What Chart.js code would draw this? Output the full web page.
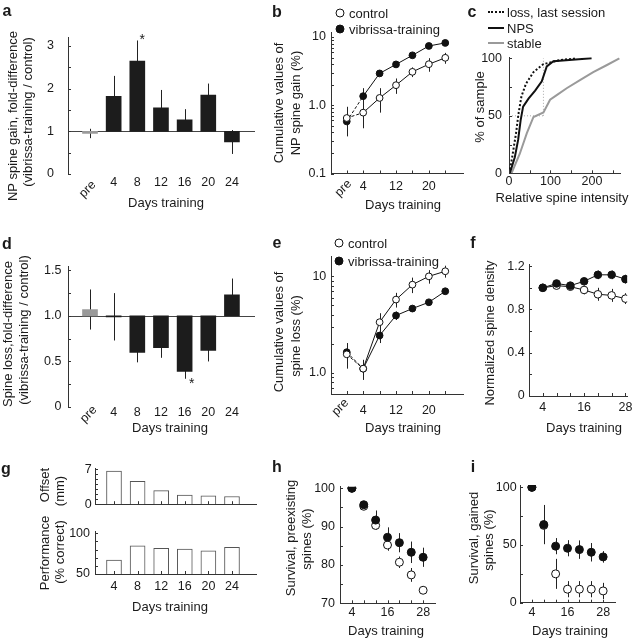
<!DOCTYPE html>
<html>
<head>
<meta charset="utf-8">
<script src="https://cdn.jsdelivr.net/npm/chart.js@4.4.0/dist/chart.umd.min.js"></script>
<style>
  body { margin:0; width:637px; height:639px; background:#fff; position:relative; overflow:hidden;
         font-family:'Liberation Sans', Arial, Helvetica, sans-serif; color:#1a1a1a; }
  canvas { position:absolute; }
  .txt { position:absolute; white-space:nowrap; font-size:13px; line-height:1; }
  .lt { font-weight:bold; font-size:16px; }
  .dot { position:absolute; width:7px; height:7px; border-radius:50%; border:1px solid #111; transform:translate(-50%,-50%); }
  .seg { position:absolute; width:16px; height:0; transform:translateY(-50%); }
</style>
</head>
<body>
<script>
// ---------- data ----------
var sessionDays = [0, 4, 8, 12, 16, 20, 24];
var sessionLabels = ['pre', '4', '8', '12', '16', '20', '24'];

// a: NP spine gain, fold difference (training / control)
var gainFold = [0.95, 1.82, 2.65, 1.55, 1.27, 1.85, 0.75];
var gainFoldSem = [0.11, 0.48, 0.48, 0.42, 0.25, 0.27, 0.28];
var gainStarDay = 8;

// b: cumulative NP spine gain (%)
var gainCumCtrl = [0.65, 0.78, 1.28, 1.97, 3.09, 4.0, 4.96];
var gainCumCtrlSem = [0.3, 0.32, 0.5, 0.5, 0.5, 0.9, 0.9];
var gainCumTrain = [0.58, 1.36, 2.93, 3.97, 5.4, 7.4, 8.2];
var gainCumTrainSem = [0.15, 0.42, 0.3, 0.35, 0.4, 0.5, 0.5];

// c: cumulative distributions of relative spine intensity
var lossLastX = [1, 9, 17, 23, 30, 41, 59, 83, 123, 163];
var lossLastY = [0, 17, 35, 52, 67, 78, 88, 95, 98.5, 100];
var npsX = [2, 14, 22, 28, 34, 47, 63, 79, 91, 107, 199];
var npsY = [0, 14, 29, 46, 58, 65, 72, 80, 93, 97.5, 100];
var stableX = [6, 26, 43, 59, 83, 99, 115, 139, 171, 203, 235, 266];
var stableY = [0, 17, 35, 49, 53, 64, 68, 74, 81, 88, 94, 100];
var medianIntensity = 83;

// d: spine loss, fold difference
var lossFold = [1.07, 0.99, 0.60, 0.65, 0.39, 0.62, 1.23];
var lossFoldSem = [0.22, 0.26, 0.11, 0.11, 0.08, 0.12, 0.18];
var lossStarDay = 16;

// e: cumulative spine loss (%)
var lossCumCtrl = [1.55, 1.1, 3.34, 5.74, 8.2, 10.0, 11.3];
var lossCumCtrlSem = [0.45, 0.26, 0.8, 1.0, 1.5, 1.6, 1.6];
var lossCumTrain = [1.63, 1.1, 2.43, 3.92, 4.63, 5.38, 7.0];
var lossCumTrainSem = [0.4, 0.2, 0.4, 0.4, 0.35, 0.3, 0.4];

// f: normalized spine density
var imagingDays = [4, 8, 12, 16, 20, 24, 28];
var densityCtrl = [1.0, 1.02, 1.01, 0.98, 0.94, 0.93, 0.90];
var densityCtrlSem = [0.02, 0.03, 0.03, 0.04, 0.06, 0.06, 0.05];
var densityTrain = [1.0, 1.04, 1.02, 1.06, 1.12, 1.12, 1.08];
var densityTrainSem = [0.02, 0.03, 0.03, 0.03, 0.04, 0.04, 0.04];

// g: behaviour
var behavDays = [4, 8, 12, 16, 20, 24];
var offsetMm = [6.7, 4.6, 2.75, 1.85, 1.7, 1.55];
var perfCorrect = [67, 84.5, 81.5, 80.7, 78.6, 82.8];

// h: survival of preexisting spines (%)
var survPreCtrl = [100, 95.3, 90.3, 85.2, 80.7, 77.4, 73.4];
var survPreCtrlSem = [0, 0.8, 1.0, 1.5, 1.5, 1.8, 0.6];
var survPreTrain = [100, 95.7, 91.7, 87.2, 85.8, 83.3, 82.0];
var survPreTrainSem = [0, 0.8, 2.5, 2.6, 2.5, 2.8, 2.5];

// i: survival of gained spines (%)
var survGainCtrl = [100, 67, 25, 11.7, 11.7, 11.7, 10.2];
var survGainCtrlSem = [0, 0, 13, 7, 7, 7, 7];
var survGainTrain = [100, 67.7, 49, 47.2, 46, 43.7, 39.7];
var survGainTrainSem = [0, 17, 7, 7, 8, 8, 5];

// ---------- helpers ----------
var FONT = "'Liberation Sans', Arial, Helvetica, sans-serif";
Chart.defaults.font.family = FONT;
Chart.defaults.font.size = 12.5;
Chart.defaults.color = '#1a1a1a';

function isWhole(v) {
  var m = v / Math.pow(10, Math.floor(Math.log10(v) + 1e-9));
  return Math.abs(m - Math.round(m)) < 1e-6;
}
function pick(vals, texts) {
  return function(v) {
    for (var k = 0; k < vals.length; k++) if (Math.abs(vals[k] - v) < 1e-9) return texts[k];
    return '';
  };
}
function axis(min, max, size, o) {
  o = o || {};
  return {
    type: o.type || 'linear', min: min, max: max, offset: false,
    grid: {display: false, drawTicks: false},
    border: {display: o.border !== false, color: '#333', width: 1},
    ticks: {display: o.show !== false, autoSkip: false, maxRotation: 0, minRotation: 0,
            padding: o.pad || 0, color: '#1a1a1a', font: {size: 12.5}, callback: o.fmt},
    afterBuildTicks: function(s) {
      if (o.at) s.ticks = o.at.map(function(v) { return {value: v}; });
      else if (o.type === 'logarithmic') s.ticks = s.ticks.filter(function(t) { return isWhole(t.value); });
    },
    afterFit: function(s) { if (s.isHorizontal()) s.height = size; else s.width = size; }
  };
}
function pts(xs, ys) {
  return xs.map(function(x, i) { return {x: x, y: ys[i]}; });
}
function series(xs, ys, sem, filled, r, extra) {
  var ds = {
    data: pts(xs, ys), sem: sem, borderColor: '#111', borderWidth: 1,
    pointRadius: r, pointBorderWidth: 1, pointBorderColor: '#111',
    pointBackgroundColor: filled ? '#111' : '#fff', tension: 0
  };
  return Object.assign(ds, extra || {});
}
var dashFirst = {borderDash: function(c) { return c.p0DataIndex === 0 ? [3, 2] : undefined; }};

// error bars, reference line, inward ticks, rotated "pre" and stars
var deco = {
  id: 'deco',
  beforeDatasetsDraw: function(chart, args, o) {
    var ctx = chart.ctx, a = chart.chartArea, x = chart.scales.x, y = chart.scales.y;
    ctx.save();
    ctx.lineWidth = 1;
    if (o.refY !== undefined) {
      var py = Math.round(y.getPixelForValue(o.refY)) + 0.5;
      ctx.strokeStyle = '#444';
      ctx.beginPath(); ctx.moveTo(a.left, py); ctx.lineTo(a.right, py); ctx.stroke();
    }
    chart.data.datasets.forEach(function(ds) {
      if (!ds.sem) return;
      ctx.strokeStyle = '#222';
      ds.data.forEach(function(p, j) {
        var s = ds.sem[j];
        if (!s) return;
        var v = Array.isArray(p.y) ? p.y[1] : p.y;
        var px = Math.round(x.getPixelForValue(p.x)) + 0.5;
        ctx.beginPath();
        ctx.moveTo(px, y.getPixelForValue(v - s));
        ctx.lineTo(px, y.getPixelForValue(v + s));
        ctx.stroke();
      });
    });
    ctx.restore();
  },
  afterDraw: function(chart, args, o) {
    var ctx = chart.ctx, a = chart.chartArea, x = chart.scales.x, y = chart.scales.y;
    ctx.save();
    ctx.strokeStyle = '#333'; ctx.lineWidth = 1;
    y.ticks.forEach(function(t) {
      var py = Math.round(y.getPixelForValue(t.value)) + 0.5;
      ctx.beginPath(); ctx.moveTo(a.left, py); ctx.lineTo(a.left + 3, py); ctx.stroke();
    });
    if (o.xTicks) x.ticks.forEach(function(t) {
      var px = Math.round(x.getPixelForValue(t.value)) + 0.5;
      ctx.beginPath(); ctx.moveTo(px, a.bottom); ctx.lineTo(px, a.bottom - 3); ctx.stroke();
    });
    ctx.fillStyle = '#1a1a1a';
    ctx.font = '12.5px ' + FONT;
    if (o.pre) {
      ctx.save();
      ctx.translate(x.getPixelForValue(0) + o.pre[0], a.bottom + o.pre[1]);
      ctx.rotate(-Math.PI / 4);
      ctx.textAlign = 'right'; ctx.textBaseline = 'middle';
      ctx.fillText(sessionLabels[0], 0, 0);
      ctx.restore();
    }
    if (o.star) {
      ctx.font = '14px ' + FONT;
      ctx.textAlign = 'center'; ctx.textBaseline = 'middle';
      ctx.fillText('*', x.getPixelForValue(o.star[0]) + o.star[2], y.getPixelForValue(o.star[1]));
    }
    ctx.restore();
  }
};
Chart.register(deco);

function makeChart(box, cfg) {
  var cv = document.createElement('canvas');
  cv.width = box.w; cv.height = box.h;
  cv.style.left = box.x + 'px'; cv.style.top = box.y + 'px';
  document.body.appendChild(cv);
  cfg.options.responsive = false;
  cfg.options.animation = false;
  cfg.options.devicePixelRatio = 1;
  cfg.options.events = [];
  cfg.options.layout = {padding: {top: box.pt, right: box.pr, left: 0, bottom: 0}};
  cfg.options.plugins = Object.assign({legend: {display: false}, tooltip: {enabled: false}}, cfg.options.plugins || {});
  return new Chart(cv, cfg);
}
function addText(txt, x, y, o) {
  o = o || {};
  var d = document.createElement('div');
  d.className = 'txt' + (o.bold ? ' lt' : '');
  d.textContent = txt;
  d.style.left = x + 'px'; d.style.top = y + 'px';
  var tr = o.left ? 'translate(0,-50%)' : 'translate(-50%,-50%)';
  if (o.rot) tr += ' rotate(-90deg)';
  d.style.transform = tr;
  document.body.appendChild(d);
}
function addDot(x, y, filled) {
  var d = document.createElement('div');
  d.className = 'dot';
  d.style.left = x + 'px'; d.style.top = y + 'px';
  d.style.background = filled ? '#111' : '#fff';
  document.body.appendChild(d);
}
function addSeg(x, y, style) {
  var d = document.createElement('div');
  d.className = 'seg';
  d.style.left = x + 'px'; d.style.top = y + 'px';
  d.style.borderTop = style;
  document.body.appendChild(d);
}

var dayFmt = function(v, i) { return i === 0 ? '' : sessionLabels[i]; };
var barColors = sessionDays.map(function(d, i) { return i === 0 ? '#9a9a9a' : '#1c1c1c'; });

// ---------- a ----------
makeChart({x: 0, y: 0, w: 262, h: 215, pt: 37.5, pr: 7}, {
  type: 'bar',
  data: {datasets: [{
    data: sessionDays.map(function(d, i) { return {x: d, y: [1, gainFold[i]]}; }),
    sem: gainFoldSem, backgroundColor: barColors, borderWidth: 0, barThickness: 15
  }]},
  options: {
    scales: {
      x: axis(-3.72, 27.9, 41, {at: sessionDays, border: false, pad: 1.5, fmt: dayFmt}),
      y: axis(0, 3.2, 68, {at: [0, 0.5, 1, 1.5, 2, 2.5, 3], pad: 14, fmt: pick([0, 1, 2, 3], ['0', '1', '2', '3'])})
    },
    plugins: {deco: {refY: 1, pre: [4, 9], star: [gainStarDay, 3.14, 5]}}
  }
});

// ---------- b ----------
makeChart({x: 262, y: 0, w: 206, h: 215, pt: 32.9, pr: 3}, {
  type: 'line',
  data: {datasets: [
    series(sessionDays, gainCumCtrl, gainCumCtrlSem, false, 3.4, {segment: dashFirst}),
    series(sessionDays, gainCumTrain, gainCumTrainSem, true, 3.4, {segment: dashFirst})
  ]},
  options: {
    scales: {
      x: axis(-3.84, 28.32, 41.5, {at: sessionDays, pad: 5.7, fmt: pick([4, 12, 20], ['4', '12', '20'])}),
      y: axis(0.1, 11.5, 69, {type: 'logarithmic', pad: 5, fmt: pick([0.1, 1, 10], ['0.1', '1.0', '10'])})
    },
    plugins: {deco: {pre: [3, 8.5], xTicks: true}}
  }
});

// ---------- c ----------
makeChart({x: 468, y: 0, w: 169, h: 215, pt: 57.2, pr: 17}, {
  type: 'line',
  data: {datasets: [
    {data: pts(lossLastX, lossLastY), borderColor: '#111', borderWidth: 2, borderDash: [2, 2], pointRadius: 0, tension: 0},
    {data: pts(npsX, npsY), borderColor: '#111', borderWidth: 2, pointRadius: 0, tension: 0},
    {data: pts(stableX, stableY), borderColor: '#9a9a9a', borderWidth: 2, pointRadius: 0, tension: 0},
    {data: pts([0, medianIntensity], [50, 50]), borderColor: '#aaa', borderWidth: 1, borderDash: [1, 2], pointRadius: 0},
    {data: pts([medianIntensity, medianIntensity], [50, 100]), borderColor: '#aaa', borderWidth: 1, borderDash: [1, 2], pointRadius: 0}
  ]},
  options: {
    scales: {
      x: axis(0, 267.5, 41.7, {at: [0, 50, 100, 150, 200, 250], pad: 1, fmt: pick([0, 100, 200], ['0', '100', '200'])}),
      y: axis(0, 101, 41, {at: [0, 25, 50, 75, 100], pad: 7, fmt: pick([0, 50, 100], ['0', '50', '100'])})
    },
    plugins: {deco: {xTicks: true}}
  }
});

// ---------- d ----------
makeChart({x: 0, y: 215, w: 262, h: 215, pt: 51.7, pr: 7}, {
  type: 'bar',
  data: {datasets: [{
    data: sessionDays.map(function(d, i) { return {x: d, y: [1, lossFold[i]]}; }),
    sem: lossFoldSem, backgroundColor: barColors, borderWidth: 0, barThickness: 15
  }]},
  options: {
    scales: {
      x: axis(-3.72, 27.9, 23, {at: sessionDays, border: false, pad: -2, fmt: dayFmt}),
      y: axis(0, 1.54, 68, {at: [0, 0.25, 0.5, 0.75, 1, 1.25, 1.5], pad: 6.6, fmt: pick([0, 0.5, 1, 1.5], ['0', '0.5', '1.0', '1.5'])})
    },
    plugins: {deco: {refY: 1, pre: [5, 1], star: [lossStarDay, 0.25, 7]}}
  }
});

// ---------- e ----------
makeChart({x: 262, y: 215, w: 206, h: 215, pt: 41.7, pr: 3}, {
  type: 'line',
  data: {datasets: [
    series(sessionDays, lossCumCtrl, lossCumCtrlSem, false, 3.4, {segment: dashFirst}),
    series(sessionDays, lossCumTrain, lossCumTrainSem, true, 3.4, {segment: dashFirst})
  ]},
  options: {
    scales: {
      x: axis(-3.84, 28.32, 36, {at: sessionDays, pad: 8.8, fmt: pick([4, 12, 20], ['4', '12', '20'])}),
      y: axis(0.61, 16, 69, {type: 'logarithmic', pad: 4.7, fmt: pick([1, 10], ['1.0', '10'])})
    },
    plugins: {deco: {pre: [0, 7], xTicks: true}}
  }
});

// ---------- f ----------
makeChart({x: 468, y: 215, w: 169, h: 215, pt: 49, pr: 7}, {
  type: 'line',
  data: {datasets: [
    series(imagingDays, densityTrain, densityTrainSem, true, 3.8),
    series(imagingDays, densityCtrl, densityCtrlSem, false, 3.8)
  ]},
  options: {
    scales: {
      x: axis(0, 28.5, 34, {at: imagingDays, pad: 4.5, fmt: pick([4, 16, 28], ['4', '16', '28'])}),
      y: axis(0, 1.22, 61, {at: [0, 0.2, 0.4, 0.6, 0.8, 1.0, 1.2], pad: 4.3, fmt: pick([0, 0.4, 0.8, 1.2], ['0', '0.4', '0.8', '1.2'])})
    },
    plugins: {deco: {xTicks: true}}
  }
});

// ---------- g ----------
makeChart({x: 0, y: 440, w: 262, h: 75, pt: 28, pr: 6}, {
  type: 'bar',
  data: {datasets: [{data: pts(behavDays, offsetMm), backgroundColor: '#fff', borderColor: '#555', borderWidth: 1, barThickness: 15}]},
  options: {
    scales: {
      x: axis(0.78, 28.07, 6.7, {at: behavDays, show: false}),
      y: axis(0, 7.3, 95, {at: [0, 1, 2, 3, 4, 5, 6, 7], pad: 3.3, fmt: pick([0, 7], ['0', '7'])})
    },
    plugins: {deco: {xTicks: true}}
  }
});
makeChart({x: 0, y: 515, w: 262, h: 85, pt: 16.7, pr: 6}, {
  type: 'bar',
  data: {datasets: [{data: pts(behavDays, perfCorrect), backgroundColor: '#fff', borderColor: '#555', borderWidth: 1, barThickness: 15}]},
  options: {
    scales: {
      x: axis(0.78, 28.07, 26, {at: behavDays, pad: 5.2, fmt: function(v) { return String(v); }}),
      y: axis(50, 102, 95, {at: [50, 60, 70, 80, 90, 100], pad: 5, fmt: pick([50, 100], ['50', '100'])})
    },
    plugins: {deco: {xTicks: true}}
  }
});

// ---------- h ----------
makeChart({x: 262, y: 440, w: 180, h: 199, pt: 46.7, pr: 7}, {
  type: 'line',
  data: {datasets: [
    series(imagingDays, survPreTrain, survPreTrainSem, true, 4, {showLine: false}),
    series(imagingDays, survPreCtrl, survPreCtrlSem, false, 4, {showLine: false})
  ]},
  options: {
    scales: {
      x: axis(0, 32, 35.7, {at: imagingDays, pad: 1.5, fmt: pick([4, 16, 28], ['4', '16', '28'])}),
      y: axis(70, 100.4, 78, {at: [70, 75, 80, 85, 90, 95, 100], pad: 5, fmt: pick([70, 80, 90, 100], ['70', '80', '90', '100'])})
    },
    plugins: {deco: {xTicks: true}}
  }
});

// ---------- i ----------
makeChart({x: 442, y: 440, w: 195, h: 199, pt: 45, pr: 22}, {
  type: 'line',
  data: {datasets: [
    series(imagingDays, survGainTrain, survGainTrainSem, true, 4, {showLine: false}),
    series(imagingDays, survGainCtrl, survGainCtrlSem, false, 4, {showLine: false})
  ]},
  options: {
    scales: {
      x: axis(0, 32, 36.3, {at: imagingDays, pad: 2.3, fmt: pick([4, 16, 28], ['4', '16', '28'])}),
      y: axis(0, 102, 78, {at: [0, 25, 50, 75, 100], pad: 3.3, fmt: pick([0, 50, 100], ['0', '50', '100'])})
    },
    plugins: {deco: {xTicks: true}}
  }
});

// ---------- text: letters, titles, legends ----------
addText('a', 7, 11, {bold: true});
addText('b', 277, 12, {bold: true});
addText('c', 472, 12, {bold: true});
addText('d', 7, 244, {bold: true});
addText('e', 277, 243, {bold: true});
addText('f', 473, 243, {bold: true});
addText('g', 6, 469, {bold: true});
addText('h', 277, 467, {bold: true});
addText('i', 473, 467, {bold: true});

addText('NP spine gain, fold-difference', 12, 116, {rot: true});
addText('(vibrissa-training / control)', 27, 112, {rot: true});
addText('Days training', 166, 202);

addText('Cumulative values of', 278, 103, {rot: true});
addText('NP spine gain (%)', 295, 103, {rot: true});
addText('Days training', 403, 204);
addDot(340, 13, false); addText('control', 349, 13, {left: true});
addDot(340, 29, true); addText('vibrissa-training', 349, 29, {left: true});

addText('% of sample', 479, 107, {rot: true});
addText('Relative spine intensity', 562, 197);
addSeg(488, 12, '2px dotted #111'); addText('loss, last session', 507, 12, {left: true});
addSeg(488, 28, '2px solid #111'); addText('NPS', 507, 28, {left: true});
addSeg(488, 43, '2px solid #9a9a9a'); addText('stable', 507, 43, {left: true});

addText('Spine loss,fold-difference', 7, 334, {rot: true});
addText('(vibrissa-training / control)', 23, 330, {rot: true});
addText('Days training', 170, 427);

addText('Cumulative values of', 278, 332, {rot: true});
addText('spine loss (%)', 295, 336, {rot: true});
addText('Days training', 403, 427);
addDot(339, 243, false); addText('control', 348, 243, {left: true});
addDot(339, 261, true); addText('vibrissa-training', 348, 261, {left: true});

addText('Normalized spine density', 489, 333, {rot: true});
addText('Days training', 584, 427);

addText('Offset', 43.5, 485, {rot: true});
addText('(mm)', 59, 491, {rot: true});
addText('Performance', 43.5, 553, {rot: true});
addText('(% correct)', 59, 552, {rot: true});
addText('Days training', 170, 606);

addText('Survival, preexisting', 290, 538, {rot: true});
addText('spines (%)', 306, 539, {rot: true});
addText('Days training', 386, 630);

addText('Survival, gained', 472.5, 538, {rot: true});
addText('spines (%)', 488, 540, {rot: true});
addText('Days training', 570, 630);
</script>
</body>
</html>
